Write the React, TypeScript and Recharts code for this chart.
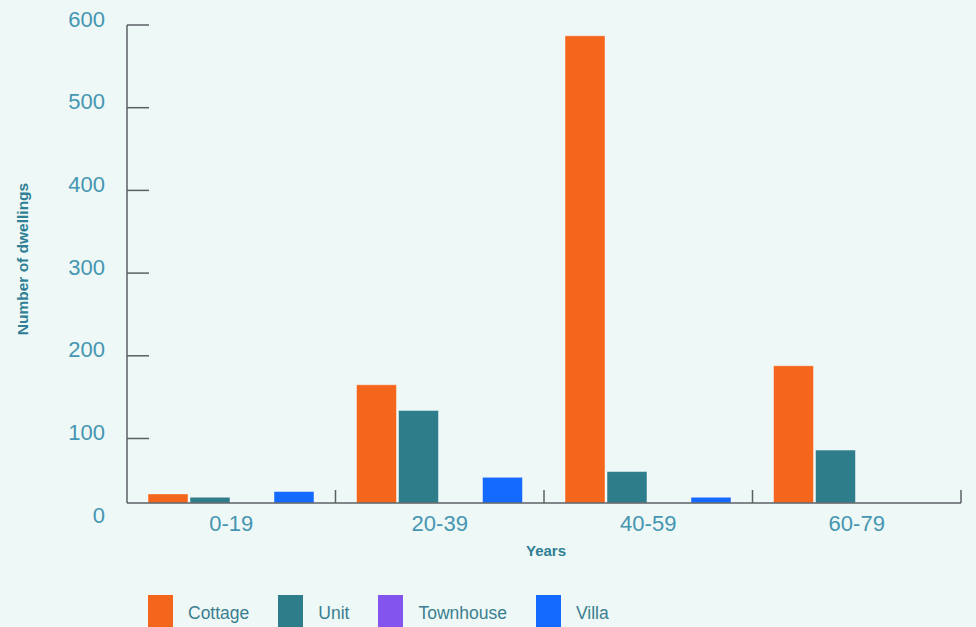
import React from 'react'
import { BarChart, Bar, XAxis, YAxis, Legend } from 'recharts'

const categories = ['0-19', '20-39', '40-59', '60-79']
const seriesNames = ['Cottage', 'Unit', 'Townhouse', 'Villa']
const cottage = [33, 165, 587, 188]
const unit = [29, 134, 60, 86]
const townhouse: (number | null)[] = [null, null, null, null]
const villa = [36, 53, 29, null]
const yTicks = [0, 100, 200, 300, 400, 500, 600]

const data = categories.map((year, i) => ({
  year,
  Cottage: cottage[i],
  Unit: unit[i],
  Townhouse: townhouse[i],
  Villa: villa[i]
}))

const W = 976
const H = 627
const LEFT = 127
const RIGHT = 15
const BAND = (W - LEFT - RIGHT) / categories.length

const AXIS = '#5b6064'
const TICK_TEXT = '#4596b2'
const LABEL_TEXT = '#2f7f95'
const SANS = "'Liberation Sans', Arial, sans-serif"

const YTick = (props: any) => {
  const { x, y, payload } = props
  return (
    <g>
      {payload.value !== 0 && (
        <line x1={x + 22} x2={x + 44} y1={y} y2={y} stroke={AXIS} strokeWidth={1.5} />
      )}
      <text x={x} y={y - 6} textAnchor='end' dominantBaseline='central' fill={TICK_TEXT} fontSize={22} fontFamily={SANS}>
        {payload.value}
      </text>
    </g>
  )
}

const XTick = (props: any) => {
  const { x, y, payload } = props
  const edge = x + BAND / 2
  return (
    <g>
      <line x1={edge} x2={edge} y1={y} y2={y - 13} stroke={AXIS} strokeWidth={1.5} />
      <text x={x} y={y + 20} textAnchor='middle' dominantBaseline='central' fill={TICK_TEXT} fontSize={22} fontFamily={SANS}>
        {payload.value}
      </text>
    </g>
  )
}

const LegendContent = (props: any) => {
  const items = [...props.payload].sort(
    (a: any, b: any) => seriesNames.indexOf(a.value) - seriesNames.indexOf(b.value)
  )
  return (
    <div style={{ display: 'flex', alignItems: 'flex-start', height: 40, paddingTop: 8, boxSizing: 'border-box' }}>
      {items.map((p: any) => (
        <div key={p.value} style={{ display: 'flex', alignItems: 'flex-start', marginRight: 29 }}>
          <div style={{ width: 25, height: 34, background: p.color, marginRight: 15 }} />
          <span style={{ fontFamily: SANS, fontSize: 17.5, lineHeight: '36px', color: '#3a7e90' }}>{p.value}</span>
        </div>
      ))}
    </div>
  )
}

export default function App() {
  return (
    <div style={{ position: 'absolute', left: 0, top: 0, width: W, height: H, background: '#eef8f6', overflow: 'hidden' }}>
      <BarChart width={W} height={H} data={data} margin={{ top: 25, right: RIGHT, left: 0, bottom: 0 }} barSize={40} barGap={2}>
        <XAxis
          dataKey='year'
          height={84}
          interval={0}
          tickSize={0}
          tickMargin={0}
          tickLine={false}
          axisLine={{ stroke: AXIS, strokeWidth: 1.5 }}
          tick={<XTick />}
          label={({ viewBox }: any) => (
            <text x={viewBox.x + viewBox.width / 2 + 2} y={viewBox.y + 47} textAnchor='middle' dominantBaseline='central'
              fill={LABEL_TEXT} fontSize={15} fontWeight='bold' fontFamily={SANS}>
              Years
            </text>
          )}
        />
        <YAxis
          type='number'
          domain={[22, 600]}
          ticks={yTicks}
          interval={0}
          allowDataOverflow
          width={LEFT}
          tickSize={0}
          tickMargin={22}
          tickLine={false}
          axisLine={{ stroke: AXIS, strokeWidth: 1.5 }}
          tick={<YTick />}
          label={({ viewBox }: any) => (
            <text x={22} y={viewBox.y + viewBox.height / 2 - 5} textAnchor='middle' dominantBaseline='central'
              transform={`rotate(-90 22 ${viewBox.y + viewBox.height / 2 - 5})`}
              fill={LABEL_TEXT} fontSize={15.5} fontWeight='bold' fontFamily={SANS}>
              Number of dwellings
            </text>
          )}
        />
        <Legend verticalAlign='bottom' align='left' wrapperStyle={{ left: 148, width: 760, height: 40 }} content={<LegendContent />} />
        <Bar dataKey='Cottage' fill='#f4661c' stroke='rgba(255,255,255,0.45)' strokeWidth={1} isAnimationActive={false} />
        <Bar dataKey='Unit' fill='#2e7d8a' stroke='rgba(255,255,255,0.45)' strokeWidth={1} isAnimationActive={false} />
        <Bar dataKey='Townhouse' fill='#8455ee' stroke='rgba(255,255,255,0.45)' strokeWidth={1} isAnimationActive={false} />
        <Bar dataKey='Villa' fill='#1469fe' stroke='rgba(255,255,255,0.45)' strokeWidth={1} isAnimationActive={false} />
      </BarChart>
    </div>
  )
}
